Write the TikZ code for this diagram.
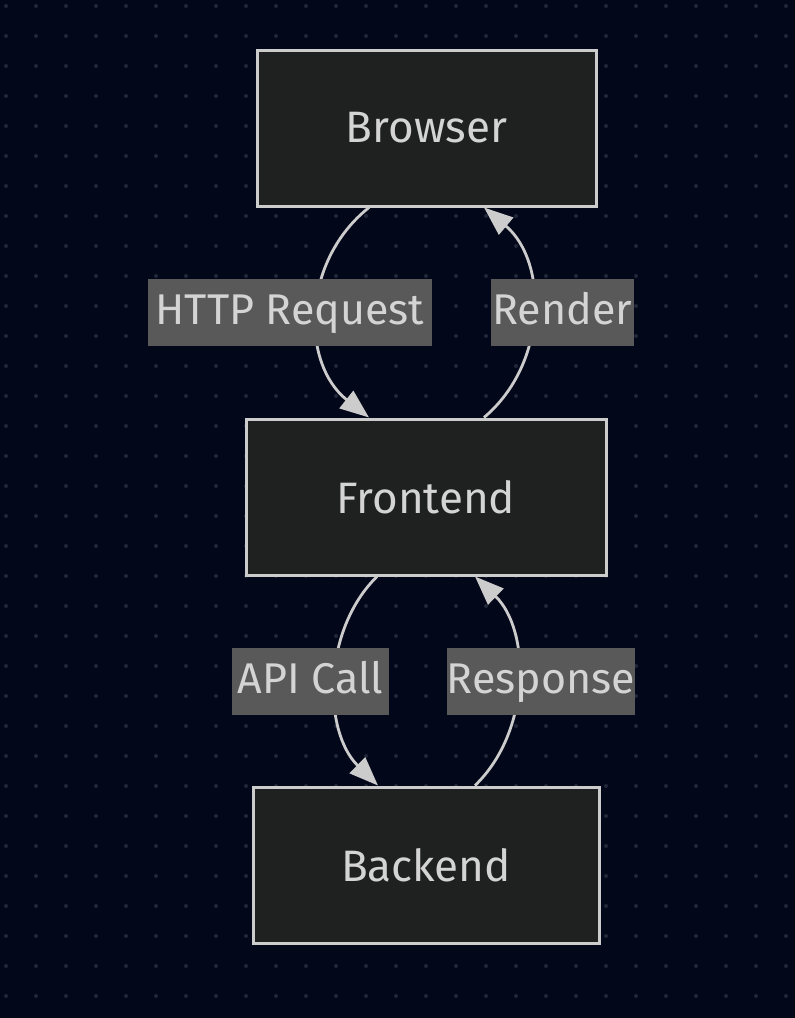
\documentclass[tikz,border=0pt]{standalone}
\usepackage{fontspec}
\setmainfont{Fira Sans}
\usepackage{tikz}
\usetikzlibrary{positioning,calc,arrows.meta}

\definecolor{bgnavy}{HTML}{03071A}
\definecolor{dotgray}{HTML}{22263A}
\definecolor{boxfill}{HTML}{1F2020}
\definecolor{boxline}{HTML}{CCCCCC}
\definecolor{labelfill}{HTML}{595959}
\definecolor{textgray}{HTML}{D4D4D4}

\begin{document}
\begin{tikzpicture}[
        x=1pt, y=-1pt,
        nodebox/.style={rectangle, draw=boxline, line width=3pt, fill=boxfill, minimum width=339pt, minimum height=156pt, text=textgray, font=\fontsize{44}{52}\selectfont},
        edgelabel/.style={rectangle, fill=labelfill, inner xsep=0pt, inner ysep=0pt, text height=32pt, text depth=9pt, minimum height=67pt, text=textgray, font=\fontsize{43}{52}\selectfont},
        flow/.style={line width=2.8pt, draw=boxline, -{Triangle[length=29pt, width=22pt]}}
        ]

        % Background with dot grid
        \fill[bgnavy] (0,0) rectangle (795,1018);
        \useasboundingbox (0,0) rectangle (795,1018);
        \foreach \dx in {6,36,...,795} {
            \foreach \dy in {6,36,...,1018} {
                \fill[dotgray] (\dx,\dy) circle (2pt);
            }
        }

        % Components
        \node[nodebox] (browser) at (426.5, 128) {Browser};
        \node[nodebox, minimum width=360pt] (frontend) at (426, 497) {Frontend};
        \node[nodebox, minimum width=346pt] (backend) at (426, 865) {Backend};

        % Flows
        \draw[flow] ([xshift=-57.5pt]browser.south) .. controls +(-68,54) and +(-68,-54) .. ([xshift=-57pt]frontend.north);
        \draw[flow] ([xshift=58pt]frontend.north) .. controls +(64,-54) and +(64,54) .. ([xshift=57.5pt]browser.south);
        \draw[flow] ([xshift=-49pt]frontend.south) .. controls +(-55,54) and +(-55,-54) .. ([xshift=-48pt]backend.north);
        \draw[flow] ([xshift=49pt]backend.north) .. controls +(56,-54) and +(56,54) .. ([xshift=49pt]frontend.south);

        % Labels
        \node[edgelabel, minimum width=284pt] (httplbl) at (290, 312.5) {HTTP Request};
        \node[edgelabel, minimum width=143pt] (renderlbl) at (562.5, 312.5) {Render};
        \node[edgelabel, minimum width=157pt] (apilbl) at (310.5, 681.5) {API Call};
        \node[edgelabel, minimum width=186pt] (resplbl) at (541, 681.5) {Response};

    \end{tikzpicture}
\end{document}
